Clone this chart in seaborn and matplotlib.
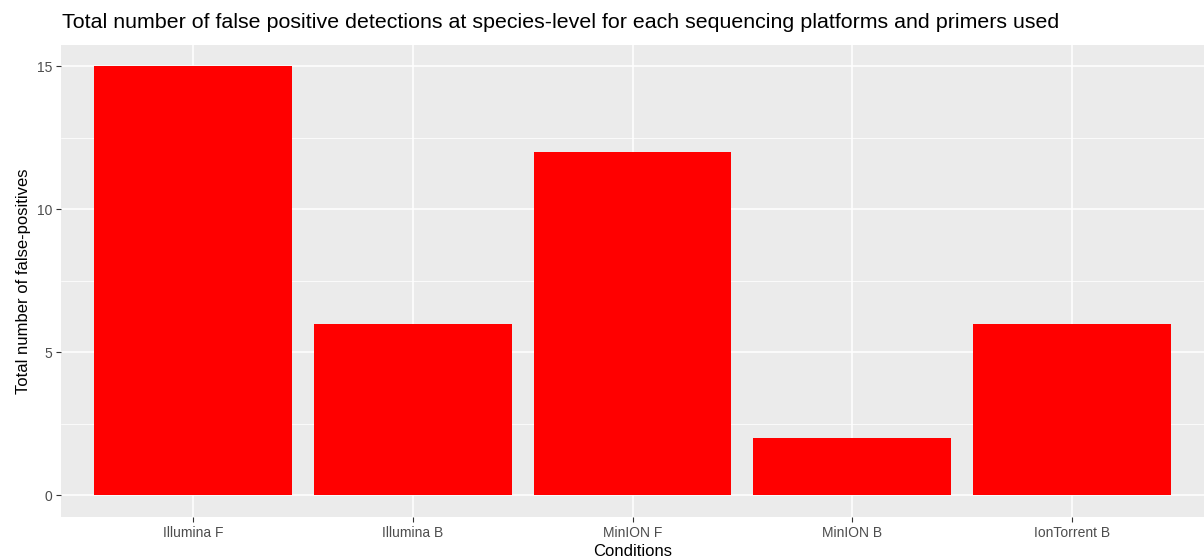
import matplotlib
matplotlib.use("Agg")
import matplotlib.pyplot as plt
import seaborn as sns
import pandas as pd
from matplotlib.ticker import MultipleLocator

conditions = ["Illumina F", "Illumina B", "MinION F", "MinION B", "IonTorrent B"]
false_positives = [15, 6, 12, 2, 6]
y_ticks = [0, 5, 10, 15]

df = pd.DataFrame({"Conditions": conditions, "FP": false_positives})

sns.set_theme(style="darkgrid")
plt.rcParams["font.family"] = ["Liberation Sans", "DejaVu Sans"]

W, H = 1204, 559
fig = plt.figure(figsize=(W / 100, H / 100), dpi=100)
left, right, top, bottom = 61, 1204, 45, 516.5
ax = fig.add_axes([left / W, (H - bottom) / H, (right - left) / W, (bottom - top) / H])
ax.set_facecolor("#EBEBEB")

sns.barplot(data=df, x="Conditions", y="FP", color="#FF0000", width=0.9,
            saturation=1, ax=ax, order=conditions, zorder=3)
for p in ax.patches:
    p.set_edgecolor("none")
    p.set_linewidth(0)

n = len(conditions)
ax.set_xlim(-0.6, n - 1 + 0.6)
ax.set_ylim(-0.75, 15.75)
ax.set_yticks(y_ticks)
ax.yaxis.set_minor_locator(MultipleLocator(2.5))

ax.grid(which="major", color="white", linewidth=1.1, zorder=0)
ax.grid(which="minor", axis="y", color="white", linewidth=0.55, zorder=0)
ax.set_axisbelow(True)
for s in ax.spines.values():
    s.set_visible(False)

ax.tick_params(axis="both", which="major", length=3.5, width=0.8, color="#333333",
               labelcolor="#4D4D4D", labelsize=10, pad=3, direction="out")
ax.tick_params(which="minor", length=0)
ax.tick_params(axis="x", bottom=True)
ax.tick_params(axis="y", left=True)

ax.set_xlabel("Conditions", fontsize=12, color="black", labelpad=3)
ax.set_ylabel("Total number of false-positives", fontsize=12, color="black", labelpad=4)
fig.text(62 / W, 1 - 22 / H, "Total number of false positive detections at species-level for each sequencing platforms and primers used",
         fontsize=15.4, color="black", va="center", ha="left")

fig.savefig("out.png", dpi=100, facecolor="white")
